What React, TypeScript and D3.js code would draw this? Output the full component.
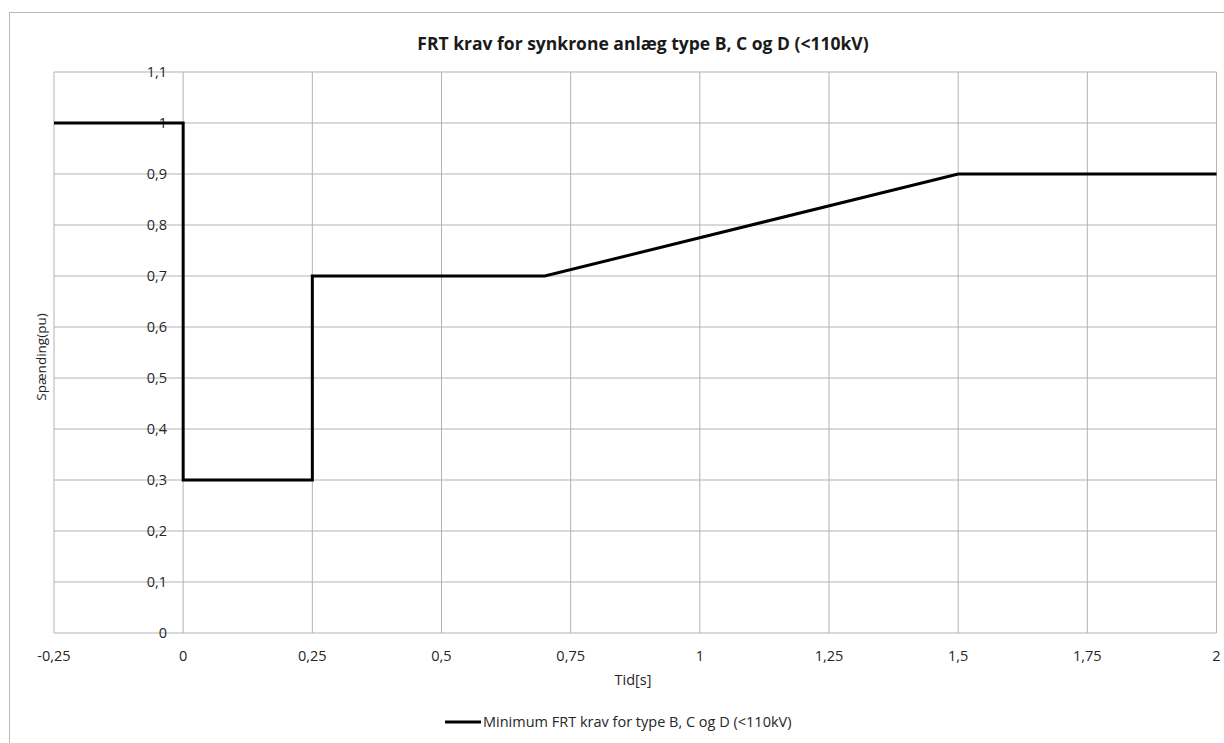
import React from "react";
import * as d3 from "d3";

const timeValues = [-0.25, 0, 0, 0.25, 0.25, 0.7, 1.5, 2];
const voltageValues = [1, 1, 0.3, 0.3, 0.7, 0.7, 0.9, 0.9];
const xTicks = [-0.25, 0, 0.25, 0.5, 0.75, 1, 1.25, 1.5, 1.75, 2];
const yTicks = [0, 0.1, 0.2, 0.3, 0.4, 0.5, 0.6, 0.7, 0.8, 0.9, 1, 1.1];
const title = "FRT krav for synkrone anlæg type B, C og D (<110kV)";
const seriesName = "Minimum FRT krav for type B, C og D (<110kV)";
const xTitle = "Tid[s]";
const yTitle = "Spænding(pu)";

const W = 1224;
const H = 743;
const left = 54;
const right = 1216.5;
const top = 72;
const bottom = 633;

const fmt = (v: number) => String(Math.round(v * 100) / 100).replace(".", ",");

export default function App() {
  const x = d3.scaleLinear().domain([-0.25, 2]).range([left, right]);
  const y = d3.scaleLinear().domain([0, 1.1]).range([bottom, top]);
  const pts: [number, number][] = timeValues.map((t, i) => [t, voltageValues[i]]);
  const line = d3
    .line<[number, number]>()
    .x((d) => x(d[0]))
    .y((d) => y(d[1]));
  const font = "'Open Sans', 'Liberation Sans', sans-serif";
  const grid = "#b3b3b3";
  return (
    <svg
      width={W}
      height={H}
      style={{ position: "absolute", left: 0, top: 0, background: "#fff" }}
      fontFamily={font}
    >
      <rect x={0} y={0} width={W} height={H} fill="#fff" />
      <rect x={9.5} y={12.5} width={W + 10} height={H + 10} fill="none" stroke="#b8b8b8" strokeWidth={1} />
      <text x={643} y={50} textAnchor="middle" fontSize={17.5} fontWeight="bold" fill="#1a1a1a">
        {title}
      </text>
      {yTicks.map((v) => (
        <line key={"gy" + v} x1={left} x2={right} y1={y(v)} y2={y(v)} stroke={grid} strokeWidth={1} />
      ))}
      {xTicks.map((v) => (
        <line key={"gx" + v} x1={x(v)} x2={x(v)} y1={top} y2={bottom} stroke={grid} strokeWidth={1} />
      ))}
      {yTicks.map((v) => (
        <text key={"ty" + v} x={x(0) - 16} y={y(v) + 5} textAnchor="end" fontSize={14.5} fill="#262626">
          {fmt(v)}
        </text>
      ))}
      {xTicks.map((v) => (
        <text key={"tx" + v} x={x(v)} y={661} textAnchor="middle" fontSize={14.5} fill="#262626">
          {fmt(v)}
        </text>
      ))}
      <path d={line(pts) || ""} fill="none" stroke="#000" strokeWidth={3} strokeLinejoin="miter" />
      <text x={633} y={685} textAnchor="middle" fontSize={14.5} fill="#262626">
        {xTitle}
      </text>
      <text
        transform={`translate(46, 357) rotate(-90)`}
        textAnchor="middle"
        fontSize={13.5}
        fill="#262626"
      >
        {yTitle}
      </text>
      <line x1={445} x2={481} y1={722} y2={722} stroke="#000" strokeWidth={3} />
      <text x={483} y={727} fontSize={14.5} fill="#262626">
        {seriesName}
      </text>
    </svg>
  );
}
